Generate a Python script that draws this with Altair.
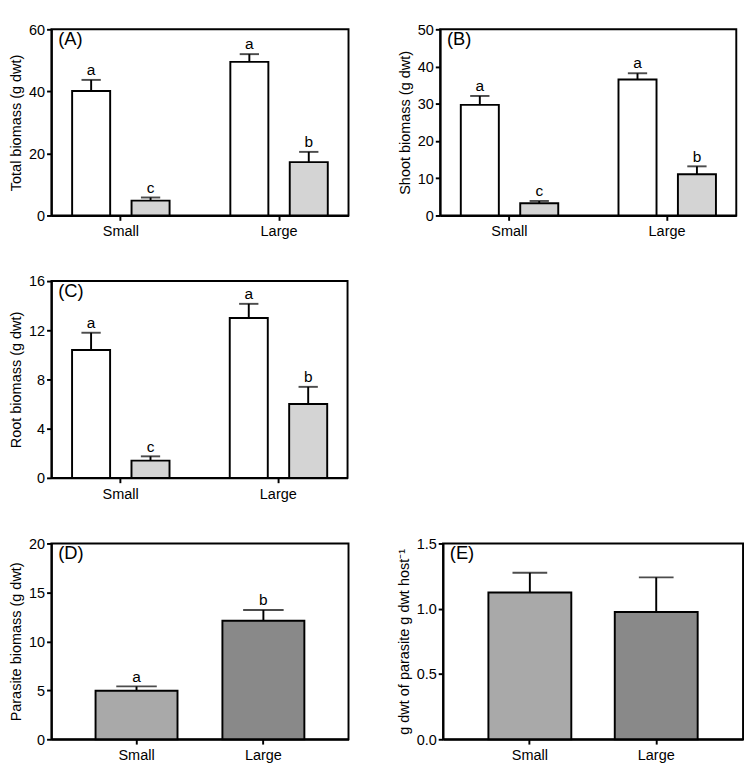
import altair as alt
import pandas as pd

FONT = "Liberation Sans"

groups = ["Small", "Large"]
types = ["Unparasitised", "Parasitised"]

# Panel A - total biomass
A_white = [40.1, 49.5]
A_white_se = [3.6, 2.5]
A_gray = [4.8, 17.2]
A_gray_se = [1.0, 3.3]
A_white_let = ["a", "a"]
A_gray_let = ["c", "b"]

# Panel B - shoot biomass
B_white = [29.7, 36.5]
B_white_se = [2.4, 1.7]
B_gray = [3.3, 11.1]
B_gray_se = [0.6, 2.1]
B_white_let = ["a", "a"]
B_gray_let = ["c", "b"]

# Panel C - root biomass
C_white = [10.4, 13.0]
C_white_se = [1.4, 1.15]
C_gray = [1.4, 6.0]
C_gray_se = [0.35, 1.4]
C_white_let = ["a", "a"]
C_gray_let = ["c", "b"]

# Panel D - parasite biomass
D_vals = [4.95, 12.1]
D_se = [0.45, 1.1]
D_let = ["a", "b"]

# Panel E - parasite per host
E_vals = [1.125, 0.975]
E_se = [0.15, 0.265]
E_let = ["", ""]

A_ticks = [0, 20, 40, 60]
B_ticks = [0, 10, 20, 30, 40, 50]
C_ticks = [0, 4, 8, 12, 16]
D_ticks = [0, 5, 10, 15, 20]
E_ticks = [0, 0.5, 1.0, 1.5]


def paired_df(white, wse, gray, gse, wlet, glet):
    rows = []
    for i, g in enumerate(groups):
        rows.append(dict(group=g, type=types[0], v=white[i], top=white[i] + wse[i], let=wlet[i]))
        rows.append(dict(group=g, type=types[1], v=gray[i], top=gray[i] + gse[i], let=glet[i]))
    return pd.DataFrame(rows)


def single_df(vals, se, lets):
    return pd.DataFrame(
        [dict(group=g, v=vals[i], top=vals[i] + se[i], let=lets[i]) for i, g in enumerate(groups)]
    )


def label_layer(text):
    return alt.Chart(pd.DataFrame({"t": [text]})).mark_text(
        align="left", baseline="top", fontSize=19, font=FONT, color="black"
    ).encode(x=alt.value(7), y=alt.value(1), text="t:N")


def yenc(title, dmax, ticks, fmt):
    return alt.Y("v:Q", title=title,
                 scale=alt.Scale(domain=[0, dmax], nice=False, zero=True),
                 axis=alt.Axis(values=ticks, tickCount=len(ticks) + 5, format=fmt,
                               titlePadding=5, labelOverlap=False, labelPadding=2))


def paired_panel(df, label, title, dmax, ticks, w, h):
    base = alt.Chart(df)
    x = alt.X("group:N", sort=groups, title=None,
              scale=alt.Scale(paddingInner=0.384, paddingOuter=0.131),
              axis=alt.Axis(labelAngle=0, labelPadding=4))
    xo = alt.XOffset("type:N", sort=types,
                     scale=alt.Scale(paddingInner=0.36, paddingOuter=0))
    y = yenc(title, dmax, ticks, "d")
    bars = base.mark_bar(stroke="black", strokeWidth=2).encode(
        x=x, xOffset=xo, y=y,
        fill=alt.Fill("type:N", scale=alt.Scale(domain=types, range=["#ffffff", "#d4d4d4"]), legend=None),
    )
    err = base.mark_rule(color="black", strokeWidth=2).encode(x=x, xOffset=xo, y="v:Q", y2="top:Q")
    cap = base.mark_tick(color="black", thickness=2, size=20).encode(x=x, xOffset=xo, y="top:Q")
    txt = base.mark_text(baseline="bottom", dy=-2, fontSize=16, font=FONT, color="black").encode(
        x=x, xOffset=xo, y="top:Q", text="let:N")
    return alt.layer(bars, err, cap, txt, label_layer(label)).properties(width=w, height=h)


def single_panel(df, label, title, dmax, ticks, fmt, capsize, w, h, pi, po):
    base = alt.Chart(df)
    x = alt.X("group:N", sort=groups, title=None,
              scale=alt.Scale(paddingInner=pi, paddingOuter=po),
              axis=alt.Axis(labelAngle=0, labelPadding=4))
    y = yenc(title, dmax, ticks, fmt)
    bars = base.mark_bar(stroke="black", strokeWidth=2).encode(
        x=x, y=y,
        fill=alt.Fill("group:N", scale=alt.Scale(domain=groups, range=["#a9a9a9", "#898989"]), legend=None),
    )
    err = base.mark_rule(color="black", strokeWidth=2).encode(x=x, y="v:Q", y2="top:Q")
    cap = base.mark_tick(color="black", thickness=2, size=capsize).encode(x=x, y="top:Q")
    txt = base.mark_text(baseline="bottom", dy=-2, fontSize=16, font=FONT, color="black").encode(
        x=x, y="top:Q", text="let:N")
    return alt.layer(bars, err, cap, txt, label_layer(label)).properties(width=w, height=h)


pA = paired_panel(paired_df(A_white, A_white_se, A_gray, A_gray_se, A_white_let, A_gray_let),
                  "(A)", "Total biomass (g dwt)", 60, A_ticks, 308, 193)
pB = paired_panel(paired_df(B_white, B_white_se, B_gray, B_gray_se, B_white_let, B_gray_let),
                  "(B)", "Shoot biomass (g dwt)", 50, B_ticks, 307, 193)
pC = paired_panel(paired_df(C_white, C_white_se, C_gray, C_gray_se, C_white_let, C_gray_let),
                  "(C)", "Root biomass (g dwt)", 16, C_ticks, 307, 204)
pD = single_panel(single_df(D_vals, D_se, D_let), "(D)", "Parasite biomass (g dwt)",
                  20, D_ticks, "d", 42, 308, 203, 0.354, 0.348)
pE = single_panel(single_df(E_vals, E_se, E_let), "(E)", "g dwt of parasite g dwt host\u207b\u00b9",
                  1.5, E_ticks, ".1f", 36, 311, 203, 0.344, 0.359)

row1 = alt.hconcat(pA, pB, spacing=49).resolve_scale(fill="independent", y="independent")
row3 = alt.hconcat(pD, pE, spacing=48).resolve_scale(fill="independent", y="independent")

chart = alt.vconcat(
    row1,
    pC,
    row3,
    spacing=35,
).resolve_scale(fill="independent", y="independent").properties(padding=0).configure_view(
    stroke="black", strokeWidth=2
).configure_axis(
    grid=False,
    domainColor="black", domainWidth=2,
    tickColor="black", tickWidth=2, tickSize=5,
    labelColor="black", labelFont=FONT, labelFontSize=15,
    titleColor="black", titleFont=FONT, titleFontSize=15, titleFontWeight="normal",
)

chart.save("out.html", embed_options={"renderer": "svg", "actions": False})
